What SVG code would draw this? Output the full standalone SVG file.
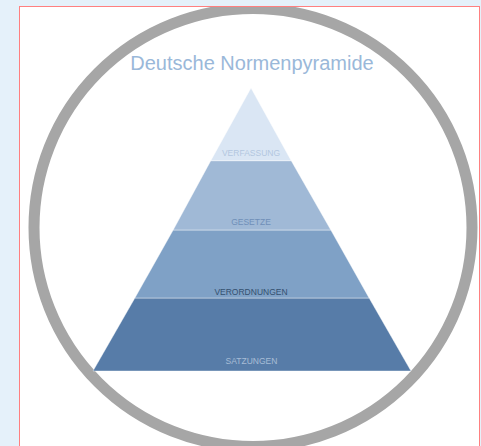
<svg xmlns="http://www.w3.org/2000/svg" width="481" height="446" viewBox="0 0 481 446">
  <defs>
    <clipPath id="panelClip">
      <rect x="20" y="7" width="459" height="439"/>
    </clipPath>
  </defs>
  <style>
    .lbl { font-family: "Liberation Sans", Arial, sans-serif; font-size: 8.5px; text-anchor: middle; }
    .band { stroke: #ffffff; stroke-opacity: 0.5; stroke-width: 0.8; }
  </style>
  <rect x="0" y="0" width="481" height="446" fill="#e5f1fa"/>
  <rect x="19.5" y="6.5" width="460" height="445" fill="#ffffff"/>
  <g id="ring" clip-path="url(#panelClip)">
    <circle cx="253" cy="227.5" r="219" fill="none" stroke="#a6a6a6" stroke-width="11"/>
  </g>
  <rect x="19.5" y="6.5" width="460" height="445" fill="none" stroke="#ff8080" stroke-width="1"/>
  <g id="title">
    <text x="252" y="70" font-family="'Liberation Sans', Arial, sans-serif" font-size="20" fill="#9ab8d9" text-anchor="middle">Deutsche Normenpyramide</text>
  </g>
  <g id="satzungen">
    <polygon class="band" points="134.9,298 369.1,298 411,371 93,371" fill="#577ca8"/>
    <text class="lbl" x="251.5" y="364" fill="#a7bcd6">SATZUNGEN</text>
  </g>
  <g id="verordnungen">
    <polygon class="band" points="173.2,230 330.8,230 369.1,298 134.9,298" fill="#7fa1c6"/>
    <text class="lbl" x="251" y="295" fill="#34506f">VERORDNUNGEN</text>
  </g>
  <g id="gesetze">
    <polygon class="band" points="210.8,160.7 291.2,160.7 330.8,230 173.2,230" fill="#a0b9d6"/>
    <text class="lbl" x="251" y="224.5" fill="#6f8fb8">GESETZE</text>
  </g>
  <g id="verfassung">
    <polygon class="band" points="251,88 291.2,160.7 210.8,160.7" fill="#dae6f4"/>
    <text class="lbl" x="251" y="155.5" fill="#b3c7df">VERFASSUNG</text>
  </g>
  <g id="connectors"/>
</svg>
